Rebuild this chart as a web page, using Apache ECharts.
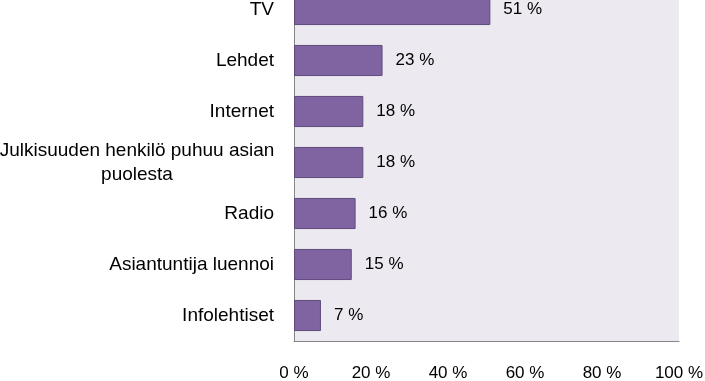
<!DOCTYPE html>
<html><head><meta charset="utf-8">
<script src="https://cdn.jsdelivr.net/npm/echarts@6/dist/echarts.min.js"></script>
<style>html,body{margin:0;padding:0;background:#fff;overflow:hidden;width:705px;height:381px}#c{width:705px;height:397px;position:absolute;left:0;top:-16px}</style>
</head><body><div id="c"></div>
<script>
var categories = ['TV', 'Lehdet', 'Internet', 'Julkisuuden henkilö puhuu asian\npuolesta', 'Radio', 'Asiantuntija luennoi', 'Infolehtiset'];
var values = [51, 23, 18, 18, 16, 15, 7];
var xTicks = [0, 20, 40, 60, 80, 100];

var FONT = 'Liberation Sans';
var chart = echarts.init(document.getElementById('c'), null, {renderer: 'canvas'});
chart.setOption({
  animation: false,
  grid: {left: 294, right: 26, top: 0, bottom: 40, containLabel: false, outerBoundsMode: 'none', show: false},
  xAxis: {
    type: 'value', min: xTicks[0], max: xTicks[xTicks.length - 1], interval: 20,
    axisLine: {show: true, lineStyle: {color: '#868686', width: 1}},
    axisTick: {show: false},
    splitLine: {show: false},
    axisLabel: {formatter: '{value} %', color: '#000', fontFamily: FONT, fontSize: 17, margin: 24}
  },
  yAxis: {
    type: 'category', data: categories, inverse: true,
    axisLine: {show: true, lineStyle: {color: '#868686', width: 1}},
    axisTick: {show: false},
    splitLine: {show: false},
    splitArea: {show: true, areaStyle: {color: ['#ECEAF0']}},
    axisLabel: {
      color: '#000', fontFamily: FONT, fontSize: 19, margin: 20, lineHeight: 24,
      formatter: function (v) {
        if (v.indexOf('\n') >= 0) {
          var p = v.split('\n');
          return '{w|' + p[0] + '}\n{w|' + p[1] + '}';
        }
        return v;
      },
      rich: {w: {width: 274, align: 'center', fontFamily: FONT, fontSize: 19, color: '#000', lineHeight: 24}}
    }
  },
  series: [{
    type: 'bar', data: values, barCategoryGap: '39%',
    itemStyle: {color: '#8064A2', borderColor: '#5E4A7C', borderWidth: 1},
    label: {show: true, position: 'right', distance: 13, formatter: '{c} %', color: '#000', fontFamily: FONT, fontSize: 17}
  }]
});
</script></body></html>
